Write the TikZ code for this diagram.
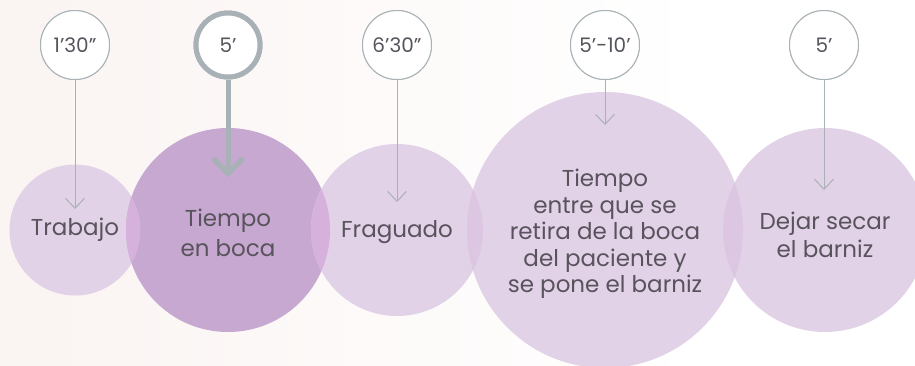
\documentclass[tikz,border=0pt]{standalone}
\usepackage{fontspec}
\setmainfont{Poppins}
\usetikzlibrary{arrows.meta}
\definecolor{txt}{HTML}{58535C}
\definecolor{lilac}{HTML}{E2D2E7}
\definecolor{mauve}{HTML}{C6A8D0}
\definecolor{lensA}{HTML}{D5B1DC}
\definecolor{lensB}{HTML}{DCC6E1}
\definecolor{ring}{HTML}{A8B1B5}
\definecolor{tint}{HTML}{FAF4F2}
\tikzset{
  bigc/.style={circle, inner sep=0pt, text=txt, align=center, font=\fontsize{23}{27}\selectfont},
  timec/.style={circle, draw=ring, fill=white, line width=1pt, inner sep=0pt, minimum size=69pt, text=txt, font=\fontsize{20}{22}\selectfont},
  thinarr/.style={draw=ring, line width=1pt, -{Straight Barb[length=10pt,width=19pt,line width=1pt]}},
  thickarr/.style={draw=ring, line width=5pt, -{Straight Barb[length=15pt,width=30pt,line width=5pt]}},
}
\begin{document}
\begin{tikzpicture}[x=1pt,y=-1pt]
\useasboundingbox (0,0) rectangle (915,365);
\fill[white] (0,0) rectangle (915,365);
\shade[left color=tint, middle color=white, right color=white] (0,0) rectangle (700,365);
% big circles
\fill[lilac] (75,230) circle (65.5);
\fill[mauve] (228,230) circle (102);
\fill[lilac] (397,230) circle (86);
\fill[lilac] (605,230) circle (138);
\fill[lilac] (825,230) circle (102);
% lenses
\begin{scope}\clip (75,230) circle (65.5); \fill[lensA] (228,230) circle (102);\end{scope}
\begin{scope}\clip (397,230) circle (86); \fill[lensA] (228,230) circle (102);\end{scope}
\begin{scope}\clip (397,230) circle (86); \fill[lensB] (605,230) circle (138);\end{scope}
\begin{scope}\clip (825,230) circle (102); \fill[lensB] (605,230) circle (138);\end{scope}
% text nodes
\node[bigc, minimum size=131pt] (trab) at (75,230) {Trabajo};
\node[bigc, minimum size=204pt, font=\fontsize{23}{30}\selectfont] (boca) at (228,233) {Tiempo\\en boca};
\node[bigc, minimum size=172pt] (frag) at (397,232) {Fraguado};
\node[bigc, minimum size=276pt, font=\fontsize{23}{26.5}\selectfont] (reti) at (605,234) {Tiempo\\entre que se\\retira de la boca\\del paciente y\\se pone el barniz};
\node[bigc, minimum size=204pt, font=\fontsize{23}{28}\selectfont] (seca) at (825,235) {Dejar secar\\el barniz};
% time circles
\node[timec] (t1) at (75,45) {1’30”};
\node[timec, line width=5pt, minimum size=64pt] (t2) at (228,45) {5’};
\node[timec] (t3) at (397,45) {6’30”};
\node[timec] (t4) at (605,45) {5’-10’};
\node[timec] (t5) at (824,45) {5’};
\coordinate (e1) at (75,209);
\coordinate (e2) at (228,177);
\coordinate (e3) at (397,202);
\coordinate (e4) at (605,125);
\coordinate (e5) at (824,190);
\draw[thinarr] (t1) -- (e1);
\draw[thickarr] (t2) -- (e2);
\draw[thinarr] (t3) -- (e3);
\draw[thinarr] (t4) -- (e4);
\draw[thinarr] (t5) -- (e5);
\node[timec] at (t1) {1’30”};
\node[timec, line width=5pt, minimum size=64pt] at (t2) {5’};
\node[timec] at (t3) {6’30”};
\node[timec] at (t4) {5’-10’};
\node[timec] at (t5) {5’};
\end{tikzpicture}
\end{document}
